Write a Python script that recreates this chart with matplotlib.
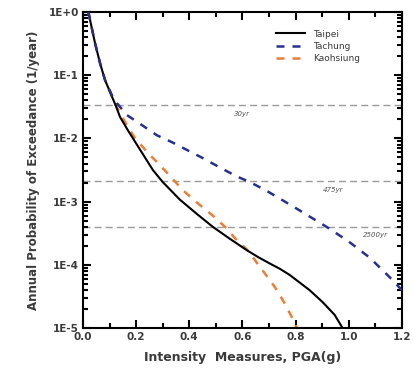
import matplotlib
matplotlib.use("Agg")
import matplotlib.pyplot as plt
from matplotlib.ticker import FixedLocator, FixedFormatter, LogLocator, NullFormatter, MultipleLocator

# ---- data ----
taipei_x = [0.02, 0.045, 0.064, 0.083, 0.109, 0.125, 0.139, 0.17, 0.203, 0.263, 0.30,
            0.365, 0.43, 0.489, 0.55, 0.617, 0.66, 0.703, 0.74, 0.778, 0.853, 0.902,
            0.947, 0.977]
taipei_y = [1.0, 0.324, 0.155, 0.0832, 0.0457, 0.0316, 0.0219, 0.0132, 0.00794, 0.00316,
            0.00204, 0.00107, 6.31e-4, 3.98e-4, 2.63e-4, 1.70e-4, 1.32e-4, 1.05e-4,
            8.71e-5, 6.92e-5, 3.98e-5, 2.57e-5, 1.62e-5, 1.0e-5]

tachung_x = [0.02, 0.045, 0.064, 0.083, 0.109, 0.127, 0.165, 0.222, 0.278, 0.335, 0.39,
             0.45, 0.515, 0.578, 0.628, 0.695, 0.748, 0.80, 0.917, 1.0, 1.08, 1.165, 1.2]
tachung_y = [1.0, 0.324, 0.155, 0.0832, 0.0479, 0.0363, 0.0234, 0.0162, 0.0112, 0.0087,
             0.0066, 0.0049, 0.00347, 0.00251, 0.00204, 0.00145, 0.00107, 7.94e-4,
             3.98e-4, 2.34e-4, 1.29e-4, 5.75e-5, 3.98e-5]

kaoh_x = [0.02, 0.045, 0.064, 0.083, 0.109, 0.125, 0.169, 0.195, 0.244, 0.289, 0.335,
          0.376, 0.43, 0.485, 0.54, 0.57, 0.62, 0.66, 0.703, 0.73, 0.76, 0.79, 0.805]
kaoh_y = [1.0, 0.324, 0.155, 0.0832, 0.0457, 0.0324, 0.0151, 0.0102, 0.00589, 0.0038,
          0.00234, 0.00151, 9.55e-4, 6.17e-4, 3.80e-4, 2.69e-4, 1.70e-4, 1.0e-4,
          5.75e-5, 3.98e-5, 2.40e-5, 1.38e-5, 1.0e-5]

return_periods = [30, 475, 2500]
return_labels = ["30yr", "475yr", "2500yr"]
return_label_x = [0.60, 0.94, 1.10]

ytick_vals = [1e0, 1e-1, 1e-2, 1e-3, 1e-4, 1e-5]
ytick_labels = ["1E+0", "1E-1", "1E-2", "1E-3", "1E-4", "1E-5"]
xtick_vals = [0.0, 0.2, 0.4, 0.6, 0.8, 1.0, 1.2]
xtick_labels = ["0.0", "0.2", "0.4", "0.6", "0.8", "1.0", "1.2"]

# ---- figure ----
fig = plt.figure(figsize=(4.13, 3.72), dpi=100)
ax = fig.add_axes([0.201, 0.118, 0.772, 0.850])

txt = "#3a3a3a"
ax.set_yscale("log")
ax.set_xlim(0, 1.2)
ax.set_ylim(1e-5, 1e0)

for rp, lab, lx in zip(return_periods, return_labels, return_label_x):
    yv = 1.0 / rp
    ax.axhline(yv, color="#9a9a9a", lw=1.0, ls=(0, (5, 3)), zorder=1)
    ax.text(lx, yv / 1.22, lab, fontsize=5, color="#555555", ha="center", va="top",
            style="italic")

ax.plot(taipei_x, taipei_y, color="black", lw=1.5, label="Taipei", zorder=3,
        solid_joinstyle="round")
ax.plot(tachung_x, tachung_y, color="#25308f", lw=1.8, ls=(0, (3.2, 3.2)), label="Tachung", zorder=3)
ax.plot(kaoh_x, kaoh_y, color="#e8803a", lw=1.8, ls=(0, (3.2, 3.2)), label="Kaohsiung", zorder=2)

ax.xaxis.set_major_locator(FixedLocator(xtick_vals))
ax.xaxis.set_major_formatter(FixedFormatter(xtick_labels))
ax.xaxis.set_minor_locator(MultipleLocator(0.1))
ax.yaxis.set_major_locator(FixedLocator(ytick_vals))
ax.yaxis.set_major_formatter(FixedFormatter(ytick_labels))
ax.yaxis.set_minor_locator(LogLocator(base=10, subs=range(2, 10), numticks=20))
ax.yaxis.set_minor_formatter(NullFormatter())

ax.tick_params(which="both", direction="in", top=True, right=True, width=1.5, colors="black")
ax.tick_params(which="major", length=6, labelsize=7.5, labelcolor=txt, pad=3)
ax.tick_params(which="minor", length=3.5)
for lab in ax.get_xticklabels() + ax.get_yticklabels():
    lab.set_fontweight("bold")

for s in ax.spines.values():
    s.set_linewidth(1.5)

ax.set_xlabel("Intensity  Measures, PGA(g)", fontsize=9, color=txt, fontweight="bold", labelpad=6)
ax.set_ylabel("Annual Probability of Exceedance (1/year)", fontsize=8.5, color=txt,
              fontweight="bold", labelpad=6)

leg = ax.legend(loc="upper right", bbox_to_anchor=(0.895, 0.97), frameon=False, fontsize=6.5,
                handlelength=3.2, handletextpad=0.9, labelspacing=0.35)
for t in leg.get_texts():
    t.set_color(txt)

fig.savefig("out.png", dpi=100)
